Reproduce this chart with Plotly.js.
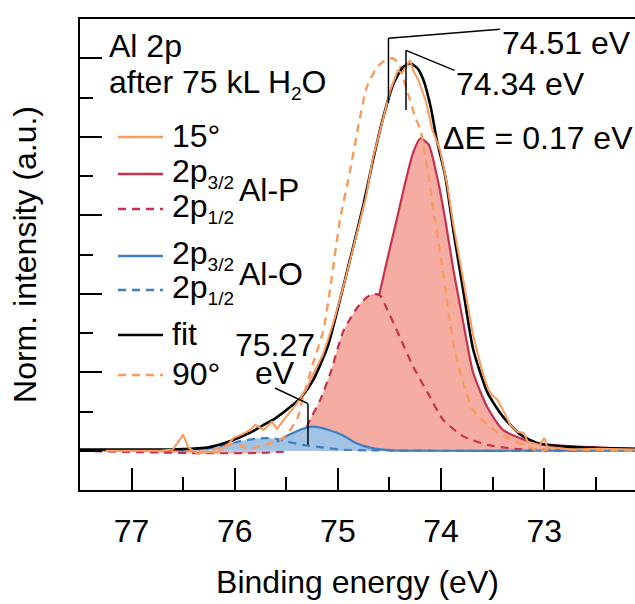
<!DOCTYPE html>
<html>
<head>
<meta charset="utf-8">
<script src="https://cdn.plot.ly/plotly-3.0.1.min.js"></script>
<style>html,body{margin:0;padding:0;background:#fff}#chart{width:635px;height:604px}</style>
</head>
<body>
<div id="chart"></div>
<script>
// ---------------- data ----------------
// Binding energy (eV) / normalized intensity
const fitE = [77.50,76.75,76.43,76.27,76.04,75.85,75.72,75.61,75.46,75.36,75.24,75.10,74.98,74.88,74.75,74.66,74.56,74.46,74.37,74.30,74.23,74.17,74.10,74.04,73.96,73.88,73.78,73.69,73.55,73.40,73.23,73.07,72.75,72.12];
const fitI = [0.003,0.003,0.005,0.008,0.025,0.046,0.066,0.082,0.112,0.135,0.180,0.265,0.384,0.490,0.630,0.740,0.850,0.936,0.977,0.987,0.975,0.944,0.875,0.790,0.700,0.560,0.400,0.260,0.148,0.087,0.041,0.020,0.010,0.005];

// Al-P 2p3/2 (solid) and 2p1/2 (dashed)
const alP32E = [74.60,74.51,74.42,74.35,74.27,74.20,74.12,74.04,73.96,73.88,73.78,73.69,73.55,73.40,73.14,72.94,72.46,72.12];
const alP32I = [0.397,0.500,0.600,0.680,0.760,0.796,0.780,0.700,0.590,0.460,0.320,0.200,0.110,0.053,0.023,0.015,0.008,0.005];
const alP12E = [77.50,75.50,75.40,75.32,75.27,75.17,75.07,74.95,74.81,74.73,74.66,74.59,74.52,74.40,74.27,74.13,73.98,73.78,73.55,73.30,73.00,72.12];
const alP12I = [0,0,0.020,0.050,0.079,0.130,0.200,0.303,0.366,0.389,0.400,0.395,0.359,0.290,0.214,0.148,0.079,0.036,0.015,0.005,0.002,0];

// Al-O 2p3/2 (solid) and 2p1/2 (dashed)
const alO32E = [75.59,75.51,75.43,75.34,75.27,75.17,75.09,75.01,74.93,74.85,74.76,74.69,74.46,74.00,73.00,72.12];
const alO32I = [0.023,0.036,0.046,0.056,0.061,0.059,0.053,0.046,0.036,0.023,0.013,0.008,0.001,0,0,0];
const alO12E = [77.50,76.50,76.43,76.28,76.17,75.97,75.78,75.70,75.61,75.49,75.34,75.14,74.98,74.70,74.00,72.12];
const alO12I = [0,0.001,0.003,0.005,0.010,0.023,0.031,0.032,0.031,0.023,0.015,0.008,0.003,0.001,0,0];

// measured spectra: 15 deg (solid) and 90 deg (dashed)
const s15E = [77.25,77.01,76.72,76.60,76.50,76.45,76.36,76.27,76.17,76.07,76.01,75.92,75.85,75.80,75.72,75.64,75.59,75.51,75.43,75.36,75.30,75.24,75.15,75.10,75.03,74.93,74.83,74.73,74.66,74.56,74.49,74.42,74.38,74.33,74.30,74.27,74.22,74.15,74.09,74.01,73.94,73.88,73.78,73.69,73.60,73.54,73.50,73.46,73.40,73.33,73.26,73.20,73.16,73.11,73.04,73.00,72.97,72.91,72.75,72.46,72.12];
const s15I = [0,0,0,0.003,0.041,0.008,-0.008,-0.003,-0.005,0.015,0.033,0.043,0.053,0.066,0.053,0.074,0.056,0.084,0.109,0.135,0.160,0.196,0.242,0.280,0.338,0.435,0.537,0.644,0.746,0.850,0.919,0.969,0.962,0.982,0.995,0.969,0.944,0.893,0.822,0.766,0.677,0.575,0.427,0.295,0.201,0.155,0.140,0.132,0.104,0.066,0.048,0.046,0.023,0.020,0.015,0.033,0.008,0.008,0.003,0.005,0.003];
const s90E = [77.30,76.43,76.28,76.19,76.09,75.99,75.92,75.85,75.75,75.66,75.56,75.49,75.39,75.34,75.24,75.14,75.07,74.98,74.88,74.80,74.72,74.62,74.54,74.47,74.41,74.37,74.30,74.25,74.20,74.13,74.08,74.01,73.94,73.88,73.78,73.69,73.55,73.40,73.23,73.11,73.06,72.91,72.75,72.12];
const s90I = [0,0,-0.003,0.003,0.013,0.018,0.010,0.005,0.013,0.018,0.028,0.043,0.084,0.135,0.224,0.308,0.422,0.588,0.715,0.830,0.926,0.977,0.995,1.000,0.987,0.952,0.893,0.850,0.817,0.715,0.624,0.504,0.377,0.270,0.168,0.104,0.066,0.038,0.018,0.005,-0.003,0.008,0.003,0];

// peak markers (eV)
const peak90 = 74.51, peak15 = 74.34, peakAlO = 75.27;
const xTickVals = [77,76,75,74,73];

// ---------------- styling ----------------
const FONT = 'Liberation Sans, Arial, Helvetica, sans-serif';
const FS = 32;
const ORANGE = '#f89b5c', RED = '#c8304e', PINK = '#f5ada3', BLUE = '#3e7fc1', LBLUE = '#a1c3e5';
const DASH = '8px,6px';
const sub = s => '<sub><span style="font-size:19px">' + s + '</span></sub>';

function fillTrace(x, y, color) {
  return {x, y, type:'scatter', mode:'lines', fill:'tozeroy', fillcolor:color,
    line:{width:0, shape:'spline', smoothing:0.6}, hoverinfo:'skip', showlegend:false};
}
function lineTrace(x, y, color, dash, width, shape) {
  return {x, y, type:'scatter', mode:'lines',
    line:{color, width, dash, shape: shape || 'spline', smoothing:0.6}, hoverinfo:'skip', showlegend:false};
}

const traces = [
  fillTrace(alP12E, alP12I, PINK),
  fillTrace(alP32E, alP32I, PINK),
  lineTrace(alP12E, alP12I, RED, DASH, 2.2),
  lineTrace(alP32E, alP32I, RED, 'solid', 2.2),
  fillTrace(alO12E, alO12I, LBLUE),
  fillTrace(alO32E, alO32I, LBLUE),
  lineTrace(alO12E, alO12I, BLUE, DASH, 2.2),
  lineTrace(alO32E, alO32I, BLUE, 'solid', 2.2),
  lineTrace(s90E, s90I, ORANGE, DASH, 2.4),
  lineTrace(fitE, fitI, '#000', 'solid', 2.6),
  lineTrace(s15E, s15I, ORANGE, 'solid', 2.0, 'linear')
];

// pixel helpers for plot-area (paper) placement
const L = 80, T = 19, W = 555, H = 471;
const px = v => (v - L) / W;
const py = v => (T + H - v) / H;

const legendRows = [
  {y:137, color:ORANGE, dash:'solid', text:'15°'},
  {y:174, color:RED,    dash:'solid', text:'2p' + sub('3/2')},
  {y:209, color:RED,    dash:DASH,    text:'2p' + sub('1/2')},
  {y:256, color:BLUE,   dash:'solid', text:'2p' + sub('3/2')},
  {y:290, color:BLUE,   dash:DASH,    text:'2p' + sub('1/2')},
  {y:335, color:'#000', dash:'solid', text:'fit'},
  {y:375, color:ORANGE, dash:DASH,    text:'90°'}
];

const shapes = [];
const annotations = [];
function txt(x, y, text, anchor) {
  annotations.push({xref:'paper', yref:'paper', x:px(x), y:py(y), text, showarrow:false,
    xanchor: anchor || 'left', yanchor:'middle', font:{family:FONT, size:FS, color:'#000'}});
}
legendRows.forEach(r => {
  shapes.push({type:'line', xref:'paper', yref:'paper', x0:px(118), x1:px(163), y0:py(r.y), y1:py(r.y),
    line:{color:r.color, width:2.5, dash:r.dash}});
  txt(170, r.y - 1, r.text);
});
txt(237, 190, 'Al-P');
txt(237, 274, 'Al-O');
txt(107, 46, 'Al 2p');
txt(107, 84, 'after 75 kL H' + sub('2') + 'O');
txt(500, 43, peak90.toFixed(2) + ' eV');
txt(454, 84, peak15.toFixed(2) + ' eV');
txt(441, 138, 'ΔE = ' + (peak90 - peak15).toFixed(2) + ' eV');
txt(275, 345, peakAlO.toFixed(2), 'center');
txt(275, 373, 'eV', 'center');

// leader lines (data coordinates)
const lead = {color:'#000', width:1.5};
function seg(x0, y0, x1, y1) { shapes.push({type:'line', xref:'x', yref:'y', x0, y0, x1, y1, line:lead}); }
seg(peak90, 0.886, peak90, 1.051);
seg(peak90, 1.051, 73.43, 1.074);
seg(peak15, 0.868, peak15, 1.020);
seg(peak15, 1.020, 73.87, 0.969);
seg(peakAlO + 0.02, 0.015, peakAlO + 0.02, 0.120);
seg(peakAlO + 0.02, 0.120, 75.61, 0.160);

const layout = {
  width:635, height:604,
  margin:{l:L, r:0, t:T, b:604 - T - H, pad:0},
  paper_bgcolor:'#fff', plot_bgcolor:'#fff',
  font:{family:FONT, size:FS, color:'#000'},
  showlegend:false,
  xaxis:{
    range:[77.5, 72.12], tickmode:'array', tickvals:xTickVals,
    ticks:'inside', ticklen:22, tickwidth:2, tickcolor:'#000',
    minor:{ticks:'inside', ticklen:13, tickwidth:2, tickcolor:'#000', dtick:0.5, tick0:0, showgrid:false},
    showline:true, linewidth:2, linecolor:'#000', mirror:true,
    showgrid:false, zeroline:false, ticklabelstandoff:12,
    tickfont:{family:FONT, size:FS, color:'#000'},
    title:{text:'Binding energy (eV)', font:{family:FONT, size:FS, color:'#000'}, standoff:22}
  },
  yaxis:{
    range:[-0.1, 1.1], tickmode:'linear', tick0:0, dtick:0.2,
    ticks:'inside', ticklen:22, tickwidth:2, tickcolor:'#000',
    minor:{ticks:'inside', ticklen:13, tickwidth:2, tickcolor:'#000', dtick:0.1, tick0:0, showgrid:false},
    showticklabels:false,
    showline:true, linewidth:2, linecolor:'#000', mirror:false,
    showgrid:false, zeroline:false,
    title:{text:'Norm. intensity (a.u.)', font:{family:FONT, size:FS, color:'#000'}, standoff:32}
  },
  shapes, annotations
};

Plotly.newPlot('chart', traces, layout, {staticPlot:true, displayModeBar:false});
</script>
</body>
</html>
